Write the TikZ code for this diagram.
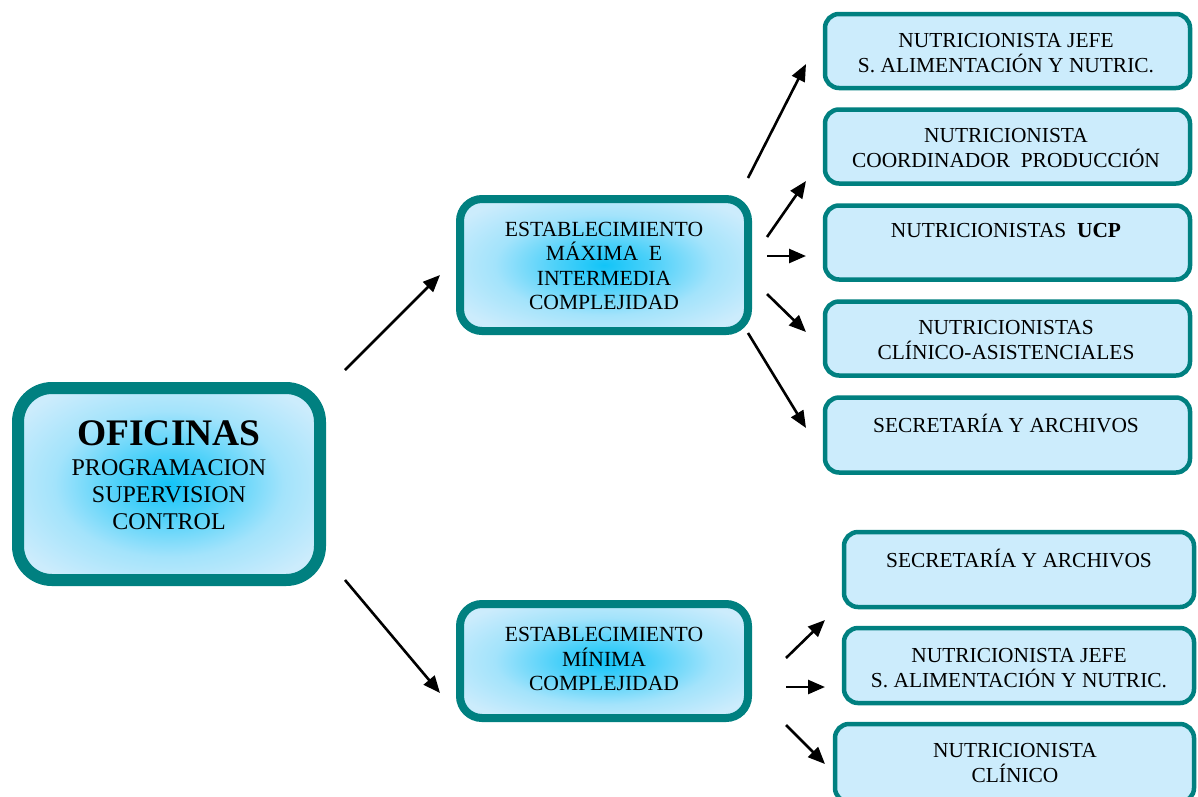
\documentclass[tikz,border=0pt]{standalone}
\usepackage{fontspec}
\setmainfont{Liberation Serif}
\usetikzlibrary{arrows.meta}
\definecolor{tealb}{HTML}{008080}
\definecolor{lightb}{HTML}{CCECFC}
\definecolor{glowc}{HTML}{12C4F8}
\pgfdeclareradialshading{boxglow}{\pgfpoint{0bp}{0bp}}{color(0bp)=(glowc); color(8bp)=(glowc!70!lightb); color(19bp)=(glowc!22!lightb); color(30bp)=(lightb); color(50bp)=(lightb)}
\tikzset{
  bigbox/.style={draw=tealb, line width=12pt, rounded corners=34pt, shading=boxglow, inner sep=0pt},
  midbox/.style={draw=tealb, line width=8pt, rounded corners=22pt, shading=boxglow, inner sep=0pt},
  smallbox/.style={draw=tealb, line width=4.5pt, rounded corners=14pt, fill=lightb, inner sep=0pt},
  txt/.style={align=center, inner sep=0pt, font=\fontsize{21.4}{25}\selectfont},
  midtxt/.style={align=center, inner sep=0pt, font=\fontsize{21.6}{24.3}\selectfont},
  arr/.style={line width=2.6pt, -{Triangle[length=17pt,width=14pt]}}
}
\begin{document}
\begin{tikzpicture}[x=1pt,y=-1pt]
\useasboundingbox (0,0) rectangle (1198,796);
% main boxes
\node[bigbox, minimum width=302pt, minimum height=192pt] (ofi) at (169,484) {};
\node[inner sep=0pt, font=\fontsize{37.5}{40}\selectfont\bfseries] (ofit) at (169,433) {OFICINAS};
\node[align=center, inner sep=0pt, font=\fontsize{24}{27}\selectfont] (ofis) at (169,495) {PROGRAMACION\\SUPERVISION\\CONTROL};
\node[midbox, minimum width=288pt, minimum height=132pt] (emax) at (604,265) {};
\node[midtxt] (emaxt) at (604,266) {ESTABLECIMIENTO\\MÁXIMA\ \ E\\INTERMEDIA\\COMPLEJIDAD};
\node[midbox, minimum width=288pt, minimum height=114pt] (emin) at (604,661) {};
\node[midtxt] (emint) at (604,659) {ESTABLECIMIENTO\\MÍNIMA\\COMPLEJIDAD};
% top group
\node[smallbox, minimum width=365pt, minimum height=74pt] (b1) at (1007.5,51) {};
\node[txt] (b1t) at (1006,53) {NUTRICIONISTA JEFE\\S. ALIMENTACIÓN Y NUTRIC.};
\node[smallbox, minimum width=365pt, minimum height=74pt] (b2) at (1007.5,146.5) {};
\node[txt] (b2t) at (1006,148) {NUTRICIONISTA\\COORDINADOR\ \ PRODUCCIÓN};
\node[smallbox, minimum width=365pt, minimum height=74pt] (b3) at (1007.5,242.5) {};
\node[txt] (b3t) at (1006,231) {NUTRICIONISTAS\ \ \textbf{UCP}};
\node[smallbox, minimum width=365pt, minimum height=74pt] (b4) at (1007.5,338.5) {};
\node[txt] (b4t) at (1006,340) {NUTRICIONISTAS\\CLÍNICO-ASISTENCIALES};
\node[smallbox, minimum width=365pt, minimum height=75pt] (b5) at (1007.5,435) {};
\node[txt] (b5t) at (1006,423) {SECRETARÍA Y ARCHIVOS};
% bottom group
\node[smallbox, minimum width=350pt, minimum height=75pt] (c1) at (1019,569.5) {};
\node[txt] (c1t) at (1019,558) {SECRETARÍA Y ARCHIVOS};
\node[smallbox, minimum width=350pt, minimum height=75pt] (c2) at (1019,665.5) {};
\node[txt] (c2t) at (1019,668) {NUTRICIONISTA JEFE\\S. ALIMENTACIÓN Y NUTRIC.};
\node[smallbox, minimum width=359pt, minimum height=78pt] (c3) at (1014.5,763) {};
\node[txt] (c3t) at (1015,763) {NUTRICIONISTA\\CLÍNICO};
% arrow end points
\coordinate (m1s) at (345,370); \coordinate (m1e) at (440,275);
\coordinate (m2s) at (345,580); \coordinate (m2e) at (440,693);
\coordinate (t1s) at (748,178); \coordinate (t1e) at (806,64);
\coordinate (t2s) at (767,237); \coordinate (t2e) at (806,181);
\coordinate (t3s) at (767,256); \coordinate (t3e) at (806,256);
\coordinate (t4s) at (767,294); \coordinate (t4e) at (806,332);
\coordinate (t5s) at (748,333); \coordinate (t5e) at (806,428);
\coordinate (u1s) at (786,658); \coordinate (u1e) at (825,620);
\coordinate (u2s) at (786,687); \coordinate (u2e) at (825,687);
\coordinate (u3s) at (786,725); \coordinate (u3e) at (825,764);
\foreach \a in {m1,m2,t1,t2,t3,t4,t5,u1,u2,u3}{\draw[arr] (\a s) -- (\a e);}
\end{tikzpicture}
\end{document}
